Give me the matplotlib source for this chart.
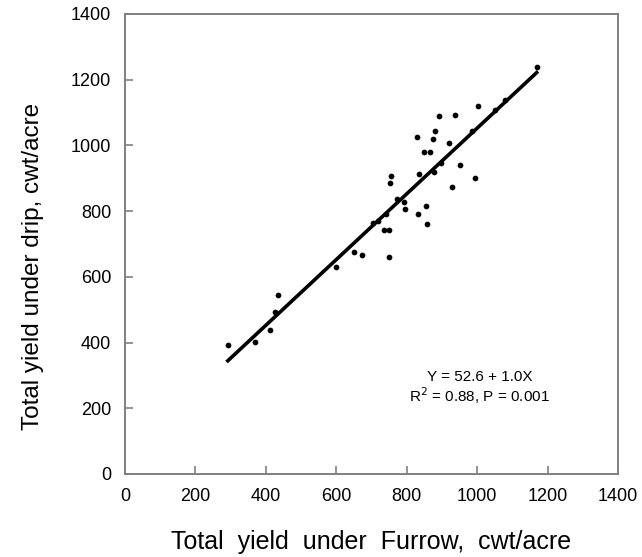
import matplotlib
matplotlib.use("Agg")
import matplotlib.pyplot as plt
import numpy as np

# yields (cwt/acre)
furrow = [292, 370, 412, 425, 434, 600, 650, 674, 704, 719, 736, 741, 749, 749,
          752, 755, 772, 793, 794, 833, 836, 830, 848, 855, 857, 866, 876, 878,
          880, 893, 897, 921, 930, 937, 950, 986, 995, 1002, 1052, 1080, 1169]
drip = [392, 403, 438, 492, 544, 630, 675, 666, 763, 771, 742, 791, 743, 659,
        886, 907, 838, 829, 808, 792, 912, 1026, 980, 815, 762, 980, 1021, 920,
        1045, 1090, 946, 1006, 874, 1092, 940, 1043, 900, 1120, 1108, 1138, 1240]

intercept = 52.6
slope = 1.0
eq_text = "Y = 52.6 + 1.0X\nR$^2$ = 0.88, P = 0.001"

plt.rcParams["font.family"] = ["Liberation Sans", "DejaVu Sans"]

fig = plt.figure(figsize=(6.42, 5.57), dpi=100)
ax = fig.add_axes([125 / 642, 1 - 474 / 557, 493 / 642, 460 / 557])

ax.scatter(furrow, drip, s=17, color="black", zorder=3, linewidths=0)
xs = np.array([min(furrow), max(furrow)])
ax.plot(xs, intercept + slope * xs, color="black", linewidth=2.6, zorder=2)

ax.text(1008, 262, eq_text, ha="center", va="center", fontsize=11,
        linespacing=1.1)

ax.set_xlim(0, 1400)
ax.set_ylim(0, 1400)
ax.set_xticks(range(0, 1401, 200))
ax.set_yticks(range(0, 1401, 200))
ax.tick_params(direction="in", length=6, width=1.2, color="#808080",
               labelsize=13, pad=10)
for s in ax.spines.values():
    s.set_color("#808080")
    s.set_linewidth(1.4)

ax.set_xlabel("Total  yield  under  Furrow,  cwt/acre", fontsize=18)
ax.set_ylabel("Total yield under drip, cwt/acre", fontsize=17.5)
ax.xaxis.set_label_coords(0.5, -0.122)
ax.yaxis.set_label_coords(-0.165, 0.452)

fig.savefig("out.png", dpi=100)
